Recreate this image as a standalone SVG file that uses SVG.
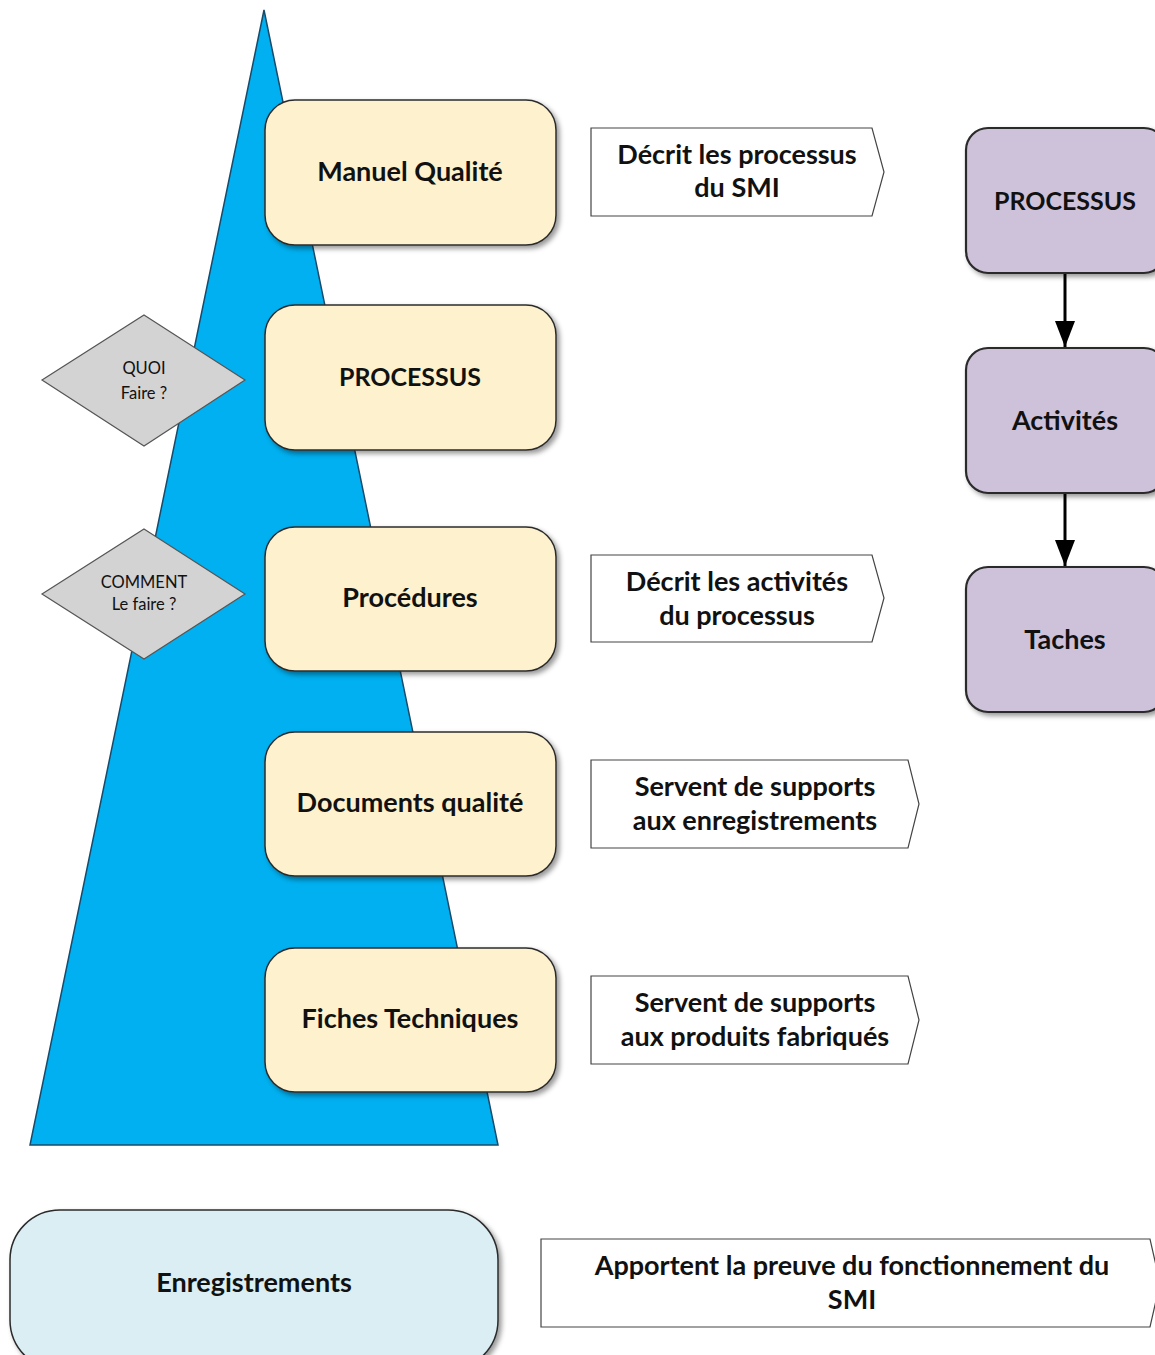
<svg xmlns="http://www.w3.org/2000/svg" width="1155" height="1355" viewBox="0 0 1155 1355">
<style>
text{font-family:Lato,"Open Sans","Liberation Sans",sans-serif;font-weight:bold;fill:#111;text-anchor:middle;}
.y{fill:#FDF1CE;stroke:#2b2b2b;stroke-width:1.5;filter:url(#sh);}
.p{fill:#CDC2D9;stroke:#2b2b2b;stroke-width:2.2;filter:url(#sh);}
.c{fill:#fff;stroke:#444;stroke-width:1.2;}
.d{fill:#D3D3D3;stroke:#555;stroke-width:1.2;}
.t{font-size:27px;}
.u{font-size:25px;}
.s{font-size:16.5px;font-weight:normal;}
.l{stroke:#000;stroke-width:3;fill:none;}
</style>
<defs>
<filter id="sh" x="-10%" y="-10%" width="130%" height="130%">
<feDropShadow dx="3" dy="3" stdDeviation="2.5" flood-color="#000" flood-opacity="0.4"/>
</filter>
<marker id="ar" markerWidth="26" markerHeight="20" refX="26" refY="10" orient="auto" markerUnits="userSpaceOnUse" viewBox="0 0 26 20">
<path d="M0,0 L26,10 L0,20 Z" fill="#000"/>
</marker>
</defs>
<rect width="1155" height="1355" fill="#fff"/>
<g id="pyramid"><polygon points="264,10 498,1145 30,1145" fill="#00B0F0" stroke="#1a4a6a" stroke-width="1.5"/></g>
<g id="manuel"><rect class="y" x="265" y="100" width="291" height="145" rx="30"/><text class="t" x="410" y="181">Manuel Qualité</text></g>
<g id="processus"><rect class="y" x="265" y="305" width="291" height="145" rx="30"/><text class="u" x="410" y="386">PROCESSUS</text></g>
<g id="procedures"><rect class="y" x="265" y="527" width="291" height="144" rx="30"/><text class="t" x="410" y="607">Procédures</text></g>
<g id="documents"><rect class="y" x="265" y="732" width="291" height="144" rx="30"/><text class="t" x="410" y="812">Documents qualité</text></g>
<g id="fiches"><rect class="y" x="265" y="948" width="291" height="144" rx="30"/><text class="t" x="410" y="1028">Fiches Techniques</text></g>
<g id="quoi"><polygon class="d" points="144,315 245,380 144,446 42,380"/><text class="s" x="144" y="374">QUOI</text><text class="s" x="144" y="399">Faire ?</text></g>
<g id="comment"><polygon class="d" points="144,529 245,594 144,659 42,594"/><text class="s" x="144" y="588">COMMENT</text><text class="s" x="144" y="610">Le faire ?</text></g>
<g id="c1"><polygon class="c" points="591,128 872,128 884,172 872,216 591,216"/><text class="t" x="737" y="164">Décrit les processus</text><text class="t" x="737" y="197">du SMI</text></g>
<g id="c2"><polygon class="c" points="591,555 872,555 884,598 872,642 591,642"/><text class="t" x="737" y="591">Décrit les activités</text><text class="t" x="737" y="625">du processus</text></g>
<g id="c3"><polygon class="c" points="591,760 908,760 919,804 908,848 591,848"/><text class="t" x="755" y="796">Servent de supports</text><text class="t" x="755" y="830">aux enregistrements</text></g>
<g id="c4"><polygon class="c" points="591,976 908,976 919,1020 908,1064 591,1064"/><text class="t" x="755" y="1012">Servent de supports</text><text class="t" x="755" y="1046">aux produits fabriqués</text></g>
<g id="c5"><polygon class="c" points="541,1239 1150,1239 1160,1283 1150,1327 541,1327"/><text class="t" x="852" y="1275">Apportent la preuve du fonctionnement du</text><text class="t" x="852" y="1309">SMI</text></g>
<g id="p1"><rect class="p" x="966" y="128" width="200" height="145" rx="22"/><text class="u" x="1065" y="210">PROCESSUS</text></g>
<g id="p2"><rect class="p" x="966" y="348" width="200" height="145" rx="22"/><text class="t" x="1065" y="430">Activités</text></g>
<g id="p3"><rect class="p" x="966" y="567" width="200" height="145" rx="22"/><text class="t" x="1065" y="649">Taches</text></g>
<g id="enreg"><rect x="10" y="1210" width="488" height="160" rx="50" fill="#DAEEF3" stroke="#2b2b2b" stroke-width="1.5" filter="url(#sh)"/><text class="t" x="254" y="1292">Enregistrements</text></g>
<g id="connectors">
<line class="l" x1="1065" y1="274" x2="1065" y2="347" marker-end="url(#ar)"/>
<line class="l" x1="1065" y1="494" x2="1065" y2="566" marker-end="url(#ar)"/>
</g>
</svg>
